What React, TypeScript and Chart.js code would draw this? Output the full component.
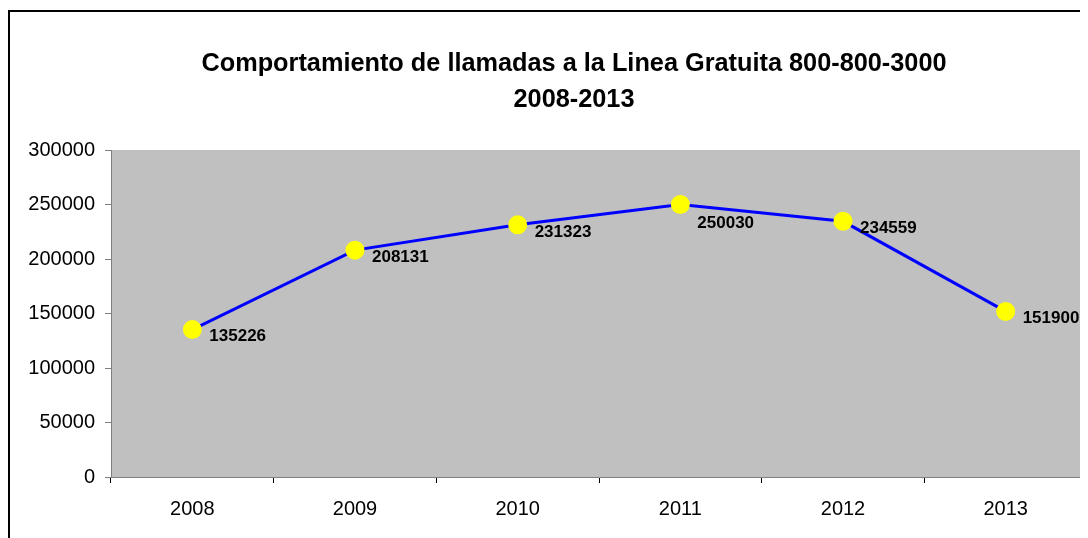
import React, { useEffect, useRef } from "react";
import { Chart, registerables } from "chart.js";

Chart.register(...registerables);

const years = ["2008", "2009", "2010", "2011", "2012", "2013"];
const calls = [135226, 208131, 231323, 250030, 234559, 151900];
const titleLines = ["Comportamiento de llamadas a la Linea Gratuita 800-800-3000", "2008-2013"];
const yTicks = [0, 50000, 100000, 150000, 200000, 250000, 300000];

const FONT = "'Liberation Sans', Arial, sans-serif";

const decorPlugin = {
  id: "decor",
  beforeDraw(chart: any) {
    const ctx = chart.ctx;
    const area = chart.chartArea;
    ctx.save();
    ctx.fillStyle = "#ffffff";
    ctx.fillRect(0, 0, chart.width, chart.height);
    ctx.fillStyle = "#C0C0C0";
    ctx.fillRect(area.left, area.top, area.right - area.left, area.bottom - area.top);
    // outer border
    ctx.strokeStyle = "#000000";
    ctx.lineWidth = 2;
    ctx.beginPath();
    ctx.moveTo(1, chart.height + 5);
    ctx.lineTo(1, 3);
    ctx.lineTo(chart.width + 5, 3);
    ctx.stroke();
    // title
    ctx.fillStyle = "#000000";
    ctx.font = `bold 25.3px ${FONT}`;
    ctx.textAlign = "center";
    ctx.textBaseline = "middle";
    ctx.fillText(titleLines[0], 566, 56.5);
    ctx.fillText(titleLines[1], 566, 92.5);
    ctx.restore();
  },
  afterDatasetsDraw(chart: any) {
    const ctx = chart.ctx;
    const meta = chart.getDatasetMeta(0);
    ctx.save();
    ctx.fillStyle = "#000000";
    ctx.font = `bold 17px ${FONT}`;
    ctx.textAlign = "left";
    ctx.textBaseline = "middle";
    const pts = meta.data;
    pts.forEach((pt: any, i: number) => {
      const text = String(calls[i]);
      const w = ctx.measureText(text).width;
      const x0 = pt.x + 17;
      let cy = pt.y + 7;
      const next = pts[i + 1];
      if (next) {
        const slope = (next.y - pt.y) / (next.x - pt.x);
        const midY = pt.y + slope * (x0 + w / 2 - pt.x);
        if (midY > cy - 6.5 && midY < cy + 6.5) {
          const endY = pt.y + slope * (x0 + w - pt.x);
          cy = Math.max(midY, endY) + 3 + 8;
        }
      }
      ctx.fillText(text, x0, cy);
    });
    ctx.restore();
  },
};

export default function App() {
  const ref = useRef<HTMLCanvasElement | null>(null);
  useEffect(() => {
    if (!ref.current) return;
    const chart = new Chart(ref.current, {
      type: "line",
      data: {
        labels: years,
        datasets: [
          {
            data: calls,
            borderColor: "#0000FF",
            borderWidth: 3,
            backgroundColor: "#FFFF00",
            pointBackgroundColor: "#FFFF00",
            pointBorderColor: "#FFFF00",
            pointRadius: 8,
            pointHoverRadius: 8,
            tension: 0,
            clip: false,
          },
        ],
      },
      options: {
        responsive: false,
        animation: false,
        layout: { autoPadding: false, padding: { top: 142, right: 1, left: 0, bottom: 0 } },
        plugins: {
          legend: { display: false },
          title: { display: false },
          tooltip: { enabled: false },
        },
        scales: {
          x: {
            offset: true,
            grid: {
              offset: true,
              drawOnChartArea: false,
              tickLength: 6,
              color: "#000000",
            },
            border: { color: "#808080", width: 1 },
            ticks: {
              color: "#000000",
              font: { family: FONT, size: 20 },
              padding: 14,
              maxRotation: 0,
            },
            afterFit(scale: any) {
              scale.height = 61;
              scale.paddingLeft = 0;
              scale.paddingRight = 0;
            },
          },
          y: {
            min: 0,
            max: 300000,
            afterBuildTicks(scale: any) {
              scale.ticks = yTicks.map((v) => ({ value: v }));
            },
            grid: {
              drawOnChartArea: false,
              tickLength: 6,
              color: "#808080",
            },
            border: { color: "#808080", width: 1 },
            ticks: {
              color: "#000000",
              font: { family: FONT, size: 20 },
              padding: 10,
              callback: (v: any) => String(v),
            },
            afterFit(scale: any) {
              scale.width = 103;
            },
          },
        },
      },
      plugins: [decorPlugin],
    });
    return () => chart.destroy();
  }, []);
  return <canvas ref={ref} width={1080} height={530} style={{ display: "block" }} />;
}
